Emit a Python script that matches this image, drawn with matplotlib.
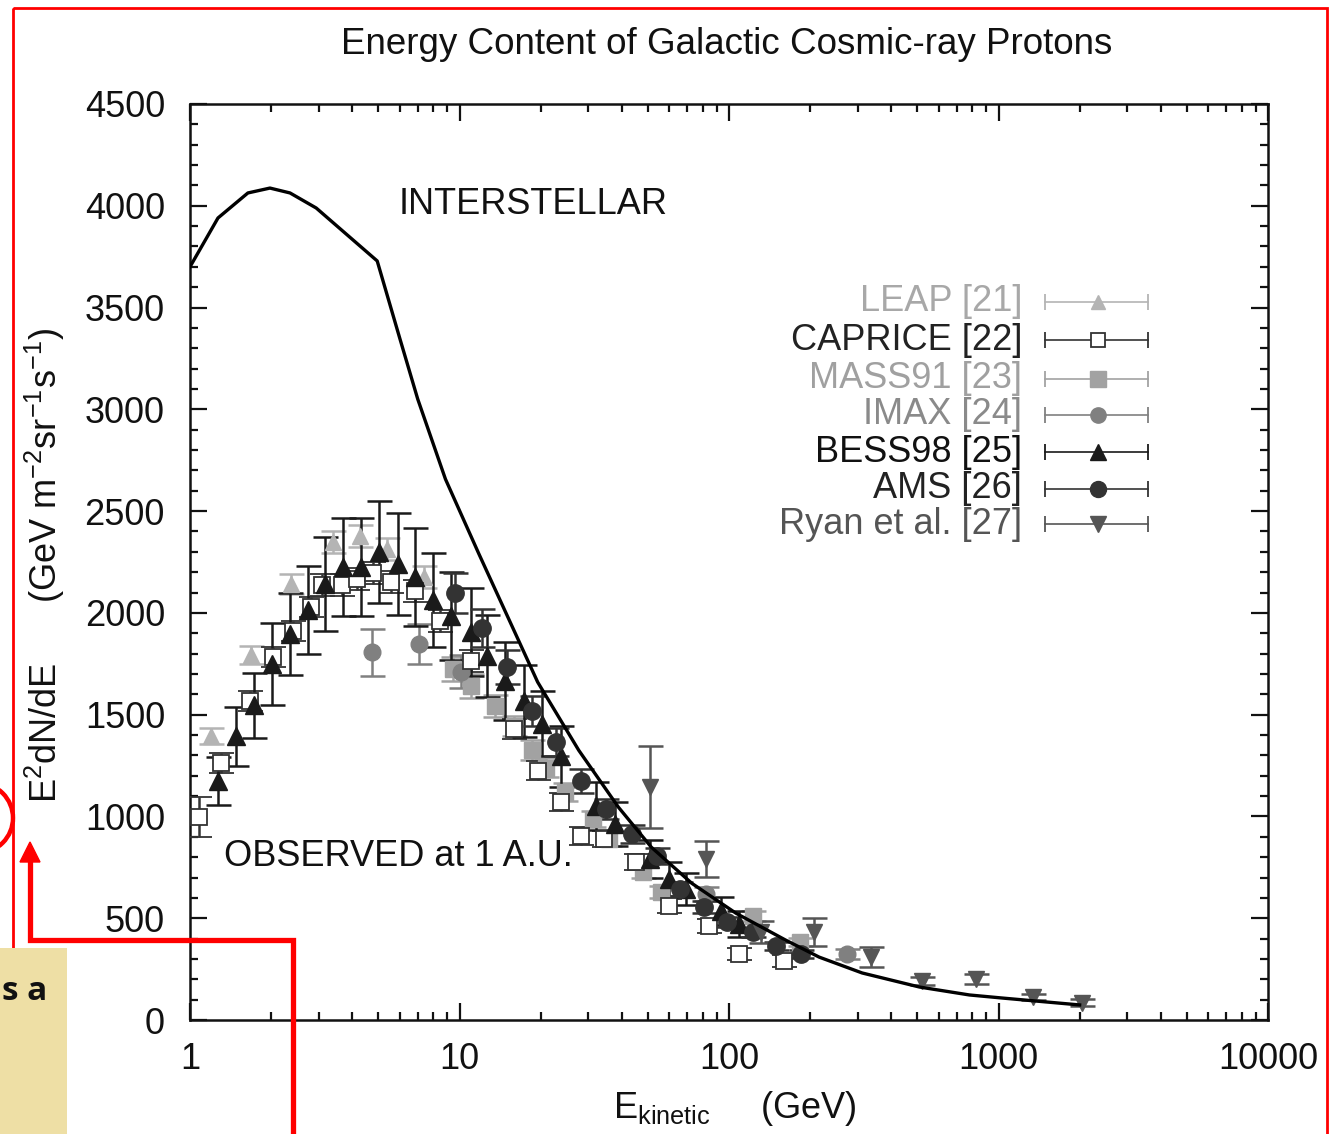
import matplotlib.pyplot as plt
from matplotlib.patches import Rectangle, Circle, Polygon
from matplotlib.lines import Line2D
from matplotlib.ticker import MultipleLocator, FuncFormatter, NullFormatter, LogLocator
from matplotlib.transforms import Affine2D

plt.rcParams['font.family'] = ['Liberation Sans', 'DejaVu Sans']
plt.rcParams['mathtext.fontset'] = 'custom'
plt.rcParams['mathtext.rm'] = 'Liberation Sans'
plt.rcParams['mathtext.default'] = 'regular'

# interstellar model curve
ism_e = [1.0, 1.27, 1.64, 1.98, 2.35, 2.94, 4.95, 6.0, 7.0, 8.87, 11.8, 19.5,
         27.7, 38.9, 51.5, 72.7, 106, 162, 216, 312, 509, 780, 1031, 2000]
ism_v = [3700, 3940, 4063, 4087, 4063, 3989, 3729, 3350, 3050, 2657, 2290, 1660,
         1325, 1045, 849, 672, 525, 393, 309, 231, 162, 123, 108, 74]

# measurements at 1 A.U.
leap_e = [1.20, 1.69, 2.37, 3.40, 4.28, 5.40, 7.40]
leap_v = [1395, 1793, 2141, 2348, 2377, 2313, 2176]
leap_err = [40, 45, 50, 55, 55, 55, 55]

caprice_e = [1.08, 1.30, 1.67, 2.03, 2.41, 2.80, 3.10, 3.65, 4.16, 4.79, 5.58, 6.85,
             8.50, 11.0, 15.9, 19.6, 23.9, 28.3, 34.4, 45.0, 59.7, 84.3, 109, 160]
caprice_v = [997, 1262, 1567, 1783, 1911, 2028, 2137, 2137, 2166, 2195, 2151, 2107,
             1960, 1763, 1429, 1225, 1071, 904, 889, 776, 560, 462, 324, 290]
caprice_err = [100, 50, 50, 50, 50, 50, 55, 55, 55, 55, 55, 55,
               55, 55, 50, 45, 45, 45, 40, 40, 35, 35, 30, 30]

mass_e = [9.5, 11.0, 13.6, 15.9, 18.5, 21.0, 24.7, 31.4, 35.8, 48.0, 56.0, 123, 183]
mass_v = [1724, 1640, 1542, 1444, 1325, 1240, 1120, 987, 889, 727, 629, 511, 383]
mass_err = [60, 60, 55, 50, 50, 45, 45, 40, 35, 30, 30, 25, 20]

imax_e = [4.74, 7.10, 10.1, 82.0, 275]
imax_v = [1807, 1847, 1712, 619, 324]
imax_err = [115, 100, 80, 35, 25]

bess_e = [1.27, 1.48, 1.73, 2.02, 2.35, 2.74, 3.18, 3.70, 4.32, 5.04, 5.89, 6.85, 8.0,
          9.3, 11.0, 12.7, 14.8, 17.3, 20.2, 23.9, 32.0, 37.6, 50.9, 59.7, 69.0, 93.0, 109]
bess_v = [1174, 1395, 1547, 1748, 1896, 2015, 2141, 2225, 2225, 2300, 2240, 2176, 2063,
          1984, 1905, 1788, 1665, 1567, 1456, 1295, 1051, 963, 791, 693, 643, 535, 471]
bess_err = [120, 145, 160, 200, 200, 215, 230, 240, 240, 250, 250, 240, 230,
            215, 215, 200, 190, 175, 160, 150, 120, 110, 95, 85, 80, 70, 65]

ams_e = [9.66, 12.1, 14.95, 18.5, 22.9, 28.2, 35.0, 43.6, 53.9, 66.0, 80.7, 98.4, 123, 150, 185]
ams_v = [2097, 1925, 1734, 1518, 1365, 1174, 1036, 914, 806, 644, 555, 481, 432, 363, 324]
ams_err = [100, 95, 85, 75, 70, 60, 50, 45, 40, 35, 30, 25, 22, 20, 18]

ryan_e = [50.9, 82.4, 132, 207, 337, 522, 828, 1340, 2040]
ryan_v = [1144, 791, 432, 432, 309, 192, 201, 113, 85]
ryan_err = [200, 90, 55, 70, 50, 20, 25, 15, 17]

W, H = 1341, 1134
fig = plt.figure(figsize=(W / 100, H / 100), dpi=100)
ax = fig.add_axes([190 / W, 1 - 1020 / H, (1268 - 190) / W, (1020 - 104) / H])

series = [
    ('LEAP [21]', leap_e, leap_v, leap_err,
     dict(marker='^', ms=11, mfc='#b4b4b4', mec='#b4b4b4', color='#b4b4b4'), '#a8a8a8'),
    ('MASS91 [23]', mass_e, mass_v, mass_err,
     dict(marker='s', ms=12, mfc='#a2a2a2', mec='#a2a2a2', color='#a2a2a2'), '#a0a0a0'),
    ('IMAX [24]', imax_e, imax_v, imax_err,
     dict(marker='o', ms=12, mfc='#808080', mec='#808080', color='#808080'), '#8a8a8a'),
    ('CAPRICE [22]', caprice_e, caprice_v, caprice_err,
     dict(marker='s', ms=11, mfc='white', mec='#333333', mew=1.3, color='#333333'), '#222222'),
    ('BESS98 [25]', bess_e, bess_v, bess_err,
     dict(marker='^', ms=13, mfc='#1a1a1a', mec='#1a1a1a', color='#1a1a1a'), '#111111'),
    ('AMS [26]', ams_e, ams_v, ams_err,
     dict(marker='o', ms=12.5, mfc='#333333', mec='#333333', color='#333333'), '#222222'),
    ('Ryan et al. [27]', ryan_e, ryan_v, ryan_err,
     dict(marker='v', ms=12, mfc='#555555', mec='#555555', color='#555555'), '#555555'),
]

for label, e, v, err, style, _ in series:
    ax.errorbar(e, v, yerr=err, ls='none', elinewidth=1.8, capsize=9, capthick=1.8,
                zorder=3, **style)

ax.plot(ism_e, ism_v, color='black', lw=2.4, zorder=4)

ax.set_xscale('log')
ax.set_xlim(1, 1e4)
ax.set_ylim(0, 4500)
ax.xaxis.set_major_locator(LogLocator(base=10))
ax.xaxis.set_minor_locator(LogLocator(base=10, subs=range(2, 10)))
ax.xaxis.set_major_formatter(FuncFormatter(lambda val, _: f'{val:g}'))
ax.xaxis.set_minor_formatter(NullFormatter())
ax.yaxis.set_major_locator(MultipleLocator(500))
ax.yaxis.set_minor_locator(MultipleLocator(100))

ax.tick_params(which='both', direction='in', top=True, right=True, width=1.6, colors='#111111')
ax.tick_params(which='major', length=12, labelsize=26)
ax.tick_params(which='minor', length=6)
ax.tick_params(axis='y', pad=18)
ax.tick_params(axis='x', pad=16)
for sp in ax.spines.values():
    sp.set_linewidth(1.8)
    sp.set_color('#111111')

ax.text(5.93, 4008, 'INTERSTELLAR', fontsize=26, va='center', ha='left', color='#111111')
ax.text(1.34, 805, 'OBSERVED at 1 A.U.', fontsize=26, va='center', ha='left', color='#111111')

# legend rows drawn by hand: label on the left, horizontal bar with end caps on the right
order = ['LEAP [21]', 'CAPRICE [22]', 'MASS91 [23]', 'IMAX [24]', 'BESS98 [25]', 'AMS [26]',
         'Ryan et al. [27]']
lookup = {s[0]: s for s in series}
row_y = [0.784, 0.742, 0.700, 0.661, 0.620, 0.580, 0.541]
for name, yy in zip(order, row_y):
    _, _, _, _, style, tcolor = lookup[name]
    c = style['color']
    ax.text(0.772, yy, name, transform=ax.transAxes, ha='right', va='center',
            fontsize=26, color=tcolor)
    ax.plot([0.793, 0.889], [yy, yy], transform=ax.transAxes, color=c, lw=1.2, zorder=5)
    ax.plot([0.793, 0.889], [yy, yy], transform=ax.transAxes, ls='none', marker='|',
            ms=12, mew=1.3, color=c, zorder=5)
    mstyle = {k: style[k] for k in ('marker', 'mfc', 'mec') if k in style}
    ax.plot([0.842], [yy], transform=ax.transAxes, ls='none', ms=style['ms'] - 1,
            mew=style.get('mew', 1), zorder=6, **mstyle)

fig.text(727 / W, 1 - 45 / H, 'Energy Content of Galactic Cosmic-ray Protons',
         ha='center', va='center', fontsize=26.5, color='#111111')
fig.text(735 / W, 1 - 1108 / H, r'E$_{kinetic}$     (GeV)', ha='center', va='center',
         fontsize=26, color='#111111')
fig.text(45 / W, 1 - 565 / H, r'E$^{2}$dN/dE      (GeV m$^{-2}$sr$^{-1}$s$^{-1}$)',
         rotation=90, ha='center', va='center', fontsize=26, color='#111111')

# slide markup on top of the figure, in pixel coordinates from the top-left corner
px = Affine2D().scale(1 / W, -1 / H).translate(0, 1) + fig.transFigure
fig.add_artist(Rectangle((13, 8), 1314, 1200, fill=False, ec='#ff0000', lw=2, transform=px))
fig.add_artist(Circle((-22, 818), 35, fill=False, ec='#ff0000', lw=3.2, transform=px))
fig.add_artist(Line2D([293, 293, 30, 30], [1140, 940, 940, 860], color='#ff0000', lw=3.8,
                      solid_joinstyle='miter', transform=px))
fig.add_artist(Polygon([(30, 842), (20, 862), (40, 862)], closed=True, fc='#ff0000',
                       ec='#ff0000', transform=px))
fig.add_artist(Rectangle((0, 948), 67, 190, fc='#eedfa5', ec='none', transform=px))
fig.text(2 / W, 1 - 1000 / H, 's a', ha='left', va='baseline', fontsize=24,
         fontweight='bold', family=['Open Sans', 'DejaVu Sans'], color='#111111')

fig.savefig('out.png', dpi=100)
